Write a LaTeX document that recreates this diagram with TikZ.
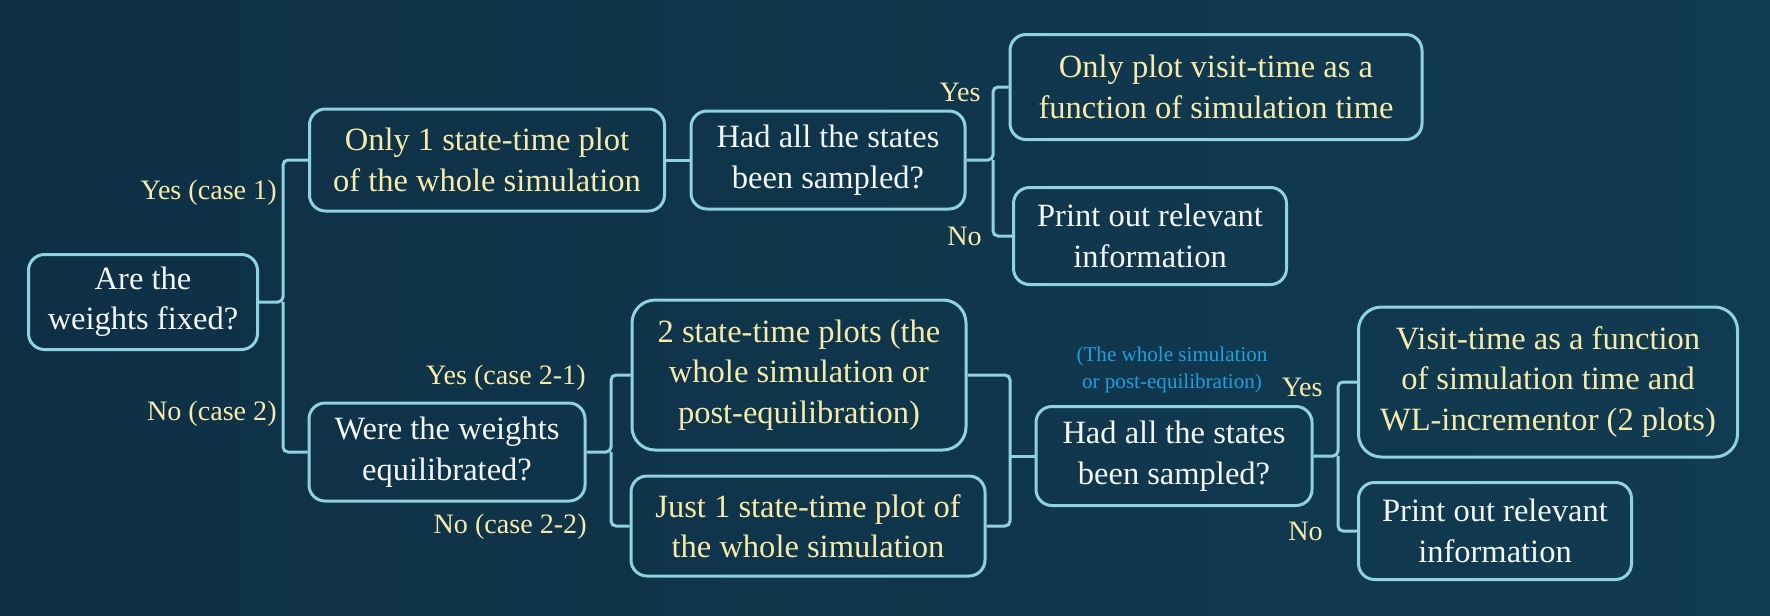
\documentclass[tikz,border=0pt]{standalone}
\usepackage{fontspec}
\setmainfont{Liberation Serif}
\usetikzlibrary{calc}
\definecolor{bgleft}{HTML}{0E3046}
\definecolor{bgmid}{HTML}{164B64}
\definecolor{bgright}{HTML}{113B52}
\definecolor{edge}{HTML}{90D2E0}
\definecolor{cream}{HTML}{F6EBA8}
\definecolor{snow}{HTML}{F4F8FA}
\definecolor{hintblue}{HTML}{1BA1DF}

\begin{document}
\begin{tikzpicture}[x=0.2mm,y=-0.2mm,
  box/.style={draw=edge, line width=0.6mm, rounded corners=3.2mm, align=center, inner sep=0pt,
    font=\fontsize{18.5}{23}\selectfont},
  tall/.style={rounded corners=4.6mm},
  sz/.style 2 args={minimum width=#1*0.2mm, minimum height=#2*0.2mm},
  ans/.style={text=cream, anchor=east, inner sep=0pt, font=\fontsize{16}{19}\selectfont},
  hint/.style={text=hintblue, align=center, inner sep=0pt, font=\fontsize{12}{15.3}\selectfont},
  link/.style={draw=edge, line width=0.6mm, rounded corners=1mm}]
\useasboundingbox (0,0) rectangle (1770,615);
\shade[left color=bgleft, middle color=bgmid, right color=bgright] (0,0) rectangle (1770,615);

\node[box, sz={229}{95}, text=snow] (fixed) at (143,302) {Are the\\weights fixed?};
\node[box, sz={355}{102}, text=cream] (oneplot) at (487,160) {Only 1 state-time plot\\of the whole simulation};
\node[box, sz={274}{98}, text=snow] (sampledA) at (828,160) {Had all the states\\been sampled?};
\node[box, sz={412}{105}, text=cream] (visitA) at (1216,87) {Only plot visit-time as a\\function of simulation time};
\node[box, sz={273}{97}, text=snow] (printA) at (1150,236) {Print out relevant\\information};
\node[box, sz={276}{98}, text=snow] (equil) at (447,452) {Were the weights\\equilibrated?};
\node[box, tall, sz={334}{150}, text=cream] (twoplots) at (799,375) {2 state-time plots (the\\whole simulation or\\post-equilibration)};
\node[box, sz={354}{100}, text=cream] (justone) at (808,526) {Just 1 state-time plot of\\the whole simulation};
\node[box, sz={276}{99}, text=snow] (sampledB) at (1174,456) {Had all the states\\been sampled?};
\node[box, tall, sz={379}{150}, text=cream] (visitB) at (1548,382) {Visit-time as a function\\of simulation time and\\WL-incrementor (2 plots)};
\node[box, sz={273}{97}, text=snow] (printB) at (1495,531) {Print out relevant\\information};

\coordinate (t1) at (283,302);
\coordinate (t2) at (993,160);
\coordinate (t3) at (611,452);
\coordinate (m1) at (1010,456);
\coordinate (t4) at (1338,456);

\draw[link] (fixed.east) -- (t1) |- (oneplot.west);
\draw[link] (t1) |- (equil.west);
\draw[link] (oneplot.east) -- (sampledA.west);
\draw[link] (sampledA.east) -- (t2) |- (visitA.west);
\draw[link] (t2) |- (printA.west);
\draw[link] (equil.east) -- (t3) |- (twoplots.west);
\draw[link] (t3) |- (justone.west);
\draw[link] (twoplots.east) -| (m1) |- (justone.east);
\draw[link] (m1) -- (sampledB.west);
\draw[link] (sampledB.east) -- (t4) |- (visitB.west);
\draw[link] (t4) |- (printB.west);

\node[ans] (yes1) at (277,193) {Yes (case 1)};
\node[ans] (no1) at (277,414) {No (case 2)};
\node[ans] (yes21) at (586,378) {Yes (case 2-1)};
\node[ans] (no22) at (587,527) {No (case 2-2)};
\node[ans] (yesA) at (981,92) {Yes};
\node[ans] (noA) at (982,236) {No};
\node[ans] (yesB) at (1323,387) {Yes};
\node[ans] (noB) at (1323,531) {No};
\node[hint] (note) at (1172,370) {(The whole simulation\\or post-equilibration)};
\end{tikzpicture}
\end{document}
